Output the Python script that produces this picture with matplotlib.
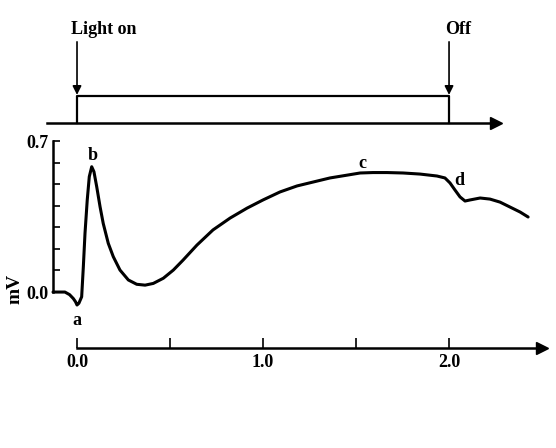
import matplotlib.pyplot as plt

# ERG-style trace (time in s, potential in mV)
time_s = [-0.129, -0.065, -0.040, -0.020, -0.008, 0.0, 0.010, 0.025, 0.034,
          0.043, 0.055, 0.066, 0.079, 0.091, 0.106, 0.124, 0.141, 0.168,
          0.195, 0.231, 0.276, 0.321, 0.366, 0.410, 0.464, 0.518, 0.570,
          0.645, 0.731, 0.823, 0.914, 1.000, 1.091, 1.183, 1.269, 1.360,
          1.452, 1.522, 1.591, 1.667, 1.753, 1.844, 1.935, 1.978, 2.005,
          2.032, 2.059, 2.086, 2.113, 2.167, 2.220, 2.274, 2.328, 2.382,
          2.425]
potential_mv = [0.0, 0.0, -0.012, -0.030, -0.045, -0.060, -0.052, -0.022,
                0.117, 0.273, 0.427, 0.535, 0.581, 0.558, 0.488, 0.395, 0.318,
                0.226, 0.164, 0.102, 0.056, 0.036, 0.032, 0.040, 0.064, 0.102,
                0.148, 0.218, 0.288, 0.343, 0.389, 0.427, 0.464, 0.492, 0.510,
                0.529, 0.542, 0.552, 0.554, 0.554, 0.552, 0.547, 0.538, 0.529,
                0.506, 0.473, 0.441, 0.422, 0.427, 0.436, 0.431, 0.417, 0.394,
                0.371, 0.348]

# wave labels and where they sit
wave_names = ["a", "b", "c", "d"]
wave_time = [0.0, 0.082, 1.532, 2.054]
wave_mv = [-0.13, 0.635, 0.598, 0.515]

light_on, light_off = 0.0, 2.0
x_ticks = [0.0, 0.5, 1.0, 1.5, 2.0]
x_labels = ["0.0", "", "1.0", "", "2.0"]
y_ticks = [0.0, 0.1, 0.2, 0.3, 0.4, 0.5, 0.6, 0.7]
y_labels = ["0.0", "", "", "", "", "", "", "0.7"]

font = dict(family="Liberation Serif", weight="bold", size=13)

fig = plt.figure(figsize=(5.56, 4.48), dpi=100)
ax = fig.add_axes([0, 0, 1, 1])
ax.set_xlim(-0.414, 2.575)
ax.set_ylim(-0.723, 1.354)

# trace
ax.plot(time_s, potential_mv, color="black", lw=2.2,
        solid_joinstyle="round", solid_capstyle="round")
for name, t, v in zip(wave_names, wave_time, wave_mv):
    ax.text(t, v, name, ha="center", va="center", **font)

# axes as spines
for side in ["top", "right"]:
    ax.spines[side].set_visible(False)
ax.spines["left"].set_position(("data", -0.129))
ax.spines["left"].set_bounds(0, 0.7)
ax.spines["bottom"].set_position(("data", -0.26))
ax.spines["bottom"].set_bounds(0, 2.49)
for s in ["left", "bottom"]:
    ax.spines[s].set_linewidth(1.8)

ax.set_xticks(x_ticks, x_labels)
ax.set_yticks(y_ticks, y_labels)
ax.tick_params(axis="x", direction="in", length=7, width=1.2, pad=4)
ax.tick_params(axis="y", direction="in", length=5, width=1.2, pad=3)
for lab in ax.get_xticklabels() + ax.get_yticklabels():
    lab.set_fontproperties(font)
    lab.set_fontsize(13)
ax.plot(2.50, -0.26, marker=">", ms=8, color="black", clip_on=False)
ax.text(-0.333, 0.014, "mV", rotation=90, ha="center", va="center",
        **{**font, "size": 14})

# stimulus marker above the trace
base, top = 0.784, 0.909
ax.plot([-0.16, 2.24], [base, base], color="black", lw=1.8)
ax.plot(2.255, base, marker=">", ms=8, color="black")
ax.plot([light_on, light_on, light_off, light_off], [base, top, top, base],
        color="black", lw=1.6)
for t, lab, dx in [(light_on, "Light on", -0.03), (light_off, "Off", -0.02)]:
    ax.annotate("", xy=(t, top + 0.005), xytext=(t, 1.16),
                arrowprops=dict(arrowstyle="-|>", color="black", lw=1.2,
                                mutation_scale=13, shrinkA=0, shrinkB=0))
    ax.text(t + dx, 1.215, lab, ha="left", va="center", **font)

fig.savefig("out.png", dpi=100)
